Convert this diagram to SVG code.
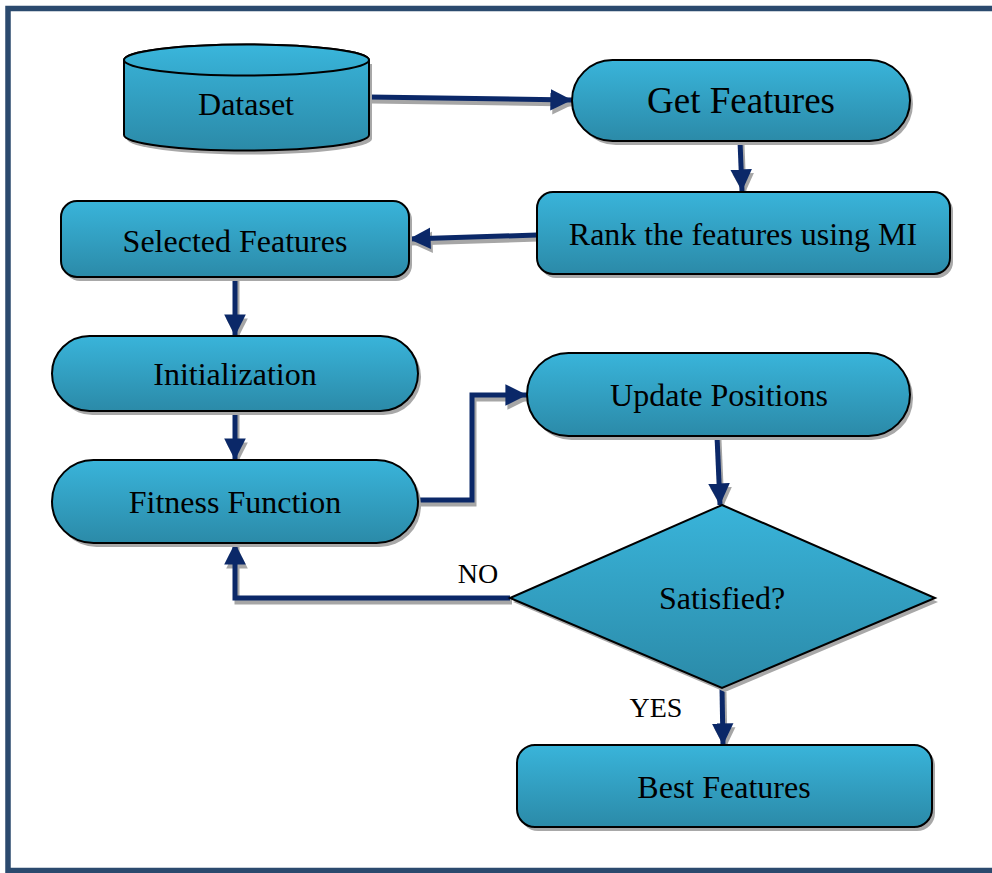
<svg xmlns="http://www.w3.org/2000/svg" width="992" height="873" viewBox="0 0 992 873">
<defs>
<linearGradient id="g" x1="0" y1="0" x2="0" y2="1">
<stop offset="0" stop-color="#39b4da"/>
<stop offset="1" stop-color="#2b8aa8"/>
</linearGradient>
<linearGradient id="gt" x1="0" y1="0" x2="0" y2="1">
<stop offset="0" stop-color="#3ab6dc"/>
<stop offset="1" stop-color="#34a8cc"/>
</linearGradient>
<marker id="ah" markerUnits="userSpaceOnUse" markerWidth="24" markerHeight="24" refX="18" refY="9" orient="auto" viewBox="0 0 20 18">
<path d="M0,0 L18,9 L0,18 Z" fill="#0b2868"/>
</marker>
<marker id="ahs" markerUnits="userSpaceOnUse" markerWidth="24" markerHeight="24" refX="18" refY="9" orient="auto" viewBox="0 0 20 18">
<path d="M0,0 L18,9 L0,18 Z" fill="#a6a6a6"/>
</marker>
<style>
.n{fill:url(#g);stroke:#000;stroke-width:2}
.sh{fill:#a8a8a8}
.t{font-family:"Liberation Serif","Times New Roman",serif;font-size:32px;fill:#000;text-anchor:middle}
.c{fill:none;stroke:#0b2868;stroke-width:5;marker-end:url(#ah)}
.cs{fill:none;stroke:#a6a6a6;stroke-width:5;marker-end:url(#ahs)}
</style>
</defs>
<rect x="0" y="0" width="992" height="873" fill="#fff"/>
<rect x="8" y="8.5" width="1000" height="862" fill="none" stroke="#2b4a6e" stroke-width="5.5"/>

<g id="connectors">
<g transform="translate(2,4)">
<path class="cs" d="M369,97 L572,100"/>
<path class="cs" d="M740,141 L742,191"/>
<path class="cs" d="M537,235 L409,239"/>
<path class="cs" d="M235,277 L235,336"/>
<path class="cs" d="M235,411 L235,460"/>
<path class="cs" d="M418,500 L472,500 L472,395 L527,395"/>
<path class="cs" d="M717,436 L720,505"/>
<path class="cs" d="M510,598 L235,598 L235,543"/>
<path class="cs" d="M722,688 L723,745"/>
</g>
<path class="c" d="M369,97 L572,100"/>
<path class="c" d="M740,141 L742,191"/>
<path class="c" d="M537,235 L409,239"/>
<path class="c" d="M235,277 L235,336"/>
<path class="c" d="M235,411 L235,460"/>
<path class="c" d="M418,500 L472,500 L472,395 L527,395"/>
<path class="c" d="M717,436 L720,505"/>
<path class="c" d="M510,598 L235,598 L235,543"/>
<path class="c" d="M722,688 L723,745"/>
<text class="t" x="478" y="583" style="font-size:28px">NO</text>
<text class="t" x="656" y="717" style="font-size:28px">YES</text>
</g>

<g id="dataset">
<path class="sh" d="M127,64 L127,139 A122.5,15.5 0 0 0 372,139 L372,64 Z"/>
<path class="n" d="M124,60 L124,135 A122.5,15.5 0 0 0 369,135 L369,60 A122.5,15.5 0 0 0 124,60 Z"/>
<ellipse cx="246.5" cy="60" rx="122.5" ry="15.5" fill="url(#gt)" stroke="#000" stroke-width="2"/>
<text class="t" x="246" y="115">Dataset</text>
</g>

<g id="get-features">
<rect class="sh" x="575" y="63" width="338" height="82" rx="41"/>
<rect class="n" x="572" y="60" width="338" height="81" rx="40.5"/>
<text class="t" x="741" y="113" style="font-size:37px">Get Features</text>
</g>

<g id="rank">
<rect class="sh" x="540" y="195" width="413" height="83" rx="16"/>
<rect class="n" x="537" y="192" width="413" height="82" rx="16"/>
<text class="t" x="743" y="245">Rank the features using MI</text>
</g>

<g id="selected">
<rect class="sh" x="64" y="204" width="348" height="77" rx="16"/>
<rect class="n" x="61" y="201" width="348" height="76" rx="16"/>
<text class="t" x="235" y="252">Selected Features</text>
</g>

<g id="init">
<rect class="sh" x="55" y="339" width="366" height="76" rx="37.5"/>
<rect class="n" x="52" y="336" width="366" height="75" rx="37.5"/>
<text class="t" x="235" y="385">Initialization</text>
</g>

<g id="fitness">
<rect class="sh" x="55" y="463" width="366" height="84" rx="41.5"/>
<rect class="n" x="52" y="460" width="366" height="83" rx="41.5"/>
<text class="t" x="235" y="513">Fitness Function</text>
</g>

<g id="update">
<rect class="sh" x="530" y="356" width="383" height="84" rx="41.5"/>
<rect class="n" x="527" y="353" width="383" height="83" rx="41.5"/>
<text class="t" x="719" y="406">Update Positions</text>
</g>

<g id="satisfied">
<path class="sh" d="M725,509 L938,602 L725,692 L513,602 Z"/>
<path class="n" d="M722,505 L935,598 L722,688 L510,598 Z"/>
<text class="t" x="722" y="609">Satisfied?</text>
</g>

<g id="best">
<rect class="sh" x="520" y="748" width="415" height="83" rx="18"/>
<rect class="n" x="517" y="745" width="415" height="82" rx="18"/>
<text class="t" x="724" y="798">Best Features</text>
</g>
</svg>
